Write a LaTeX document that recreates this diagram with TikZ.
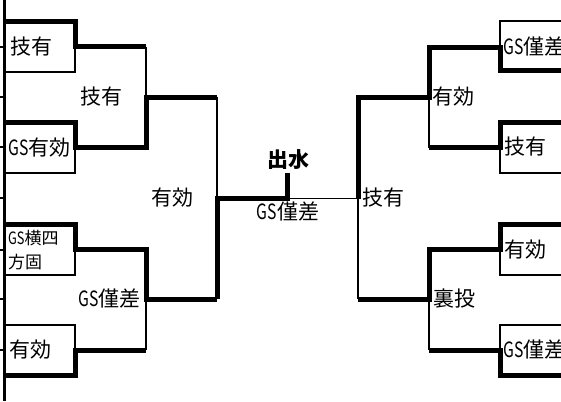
\documentclass[tikz,border=0pt]{standalone}
\usepackage{fontspec}
\setmainfont{Noto Sans CJK JP}
\newcommand\gsx{\scalebox{0.75}[1]{GS}}
\begin{document}
\begin{tikzpicture}[x=1pt,y=-1pt,
  thk/.style={line width=5pt,line join=miter},
  thn/.style={line width=1.5pt,line join=miter},
  mainl/.style={line width=3pt},
  tick/.style={line width=1.2pt},
  lbl/.style={anchor=west,inner sep=0pt,font=\fontsize{21}{24}\selectfont},
  lblc/.style={anchor=center,inner sep=0pt,font=\fontsize{21}{24}\selectfont},
  small/.style={anchor=west,inner sep=0pt,align=left,font=\fontsize{17}{23.5}\selectfont}]
\useasboundingbox (0,0) rectangle (561,401);
% main left line and ticks
\coordinate (mT) at (4.5,0); \coordinate (mB) at (4.5,401);
\draw[mainl] (mT) -- (mB);
\foreach \yy/\nm in {47/a,97/b,147/c,198/d,250/e,299/f,350/g}{
  \coordinate (t\nm0) at (0,\yy); \coordinate (t\nm1) at (4.5,\yy);
  \draw[tick] (t\nm0) -- (t\nm1);}
% junction coordinates, left
\coordinate (L1t) at (4.5,21.5); \coordinate (L1m) at (75,47);   \coordinate (L1b) at (4.5,72);
\coordinate (L2t) at (4.5,122.5);\coordinate (L2m) at (75,147.5);\coordinate (L2b) at (4.5,173);
\coordinate (L3t) at (4.5,224);  \coordinate (L3m) at (75,249.5);\coordinate (L3b) at (4.5,275);
\coordinate (L4t) at (4.5,325);  \coordinate (L4m) at (75,350);  \coordinate (L4b) at (4.5,375);
\coordinate (Q1a) at (146,47);  \coordinate (Q1b) at (146,147.5); \coordinate (Q1) at (217,97.5);
\coordinate (Q2a) at (146,249.5); \coordinate (Q2b) at (146,350); \coordinate (Q2) at (217,299);
\coordinate (SL) at (217,198.5); \coordinate (F) at (287,198.5); \coordinate (Ftop) at (287,173);
\coordinate (SR) at (358,198.5);
% junction coordinates, right
\coordinate (RQ1) at (358,97.5); \coordinate (RQ2) at (358,299);
\coordinate (RQ1a) at (429,47.5); \coordinate (RQ1b) at (429,147.5);
\coordinate (RQ2a) at (429,249.5); \coordinate (RQ2b) at (429,350);
\coordinate (R1m) at (500,47.5); \coordinate (R1t) at (565,21);  \coordinate (R1b) at (565,71);
\coordinate (R2m) at (500,147.5);\coordinate (R2t) at (565,122); \coordinate (R2b) at (565,173);
\coordinate (R3m) at (500,249.5);\coordinate (R3t) at (565,224.5); \coordinate (R3b) at (565,275);
\coordinate (R4m) at (500,350);  \coordinate (R4t) at (565,325); \coordinate (R4b) at (565,375);
% left boxes
\draw[thk] (L1t) -| (L1m) -- (Q1a);
\draw[thn] (L1m) |- (L1b);
\draw[thk] (L2t) -| (L2m) -- (Q1b) |- (Q1);
\draw[thn] (L2m) |- (L2b);
\draw[thn] (Q1a) |- (Q1);
\draw[thk] (L3t) -| (L3m) -- (Q2a) |- (Q2);
\draw[thn] (L3m) |- (L3b);
\draw[thn] (L4t) -| (L4m);
\draw[thk] (L4b) -| (L4m) -- (Q2b);
\draw[thn] (Q2b) |- (Q2);
% left semi and final
\draw[thn] (Q1) |- (SL);
\draw[thk] (Q2) |- (SL) -- (F) -- (Ftop);
\draw[thn] (F) -- (SR);
% right semi
\draw[thk] (SR) |- (RQ1 -| RQ1a) |- (RQ1a) -- (R1m) |- (R1b);
\draw[thn] (R1m) |- (R1t);
\draw[thn] (SR) |- (RQ2);
\draw[thn] (RQ1 -| RQ1a) |- (RQ1b);
\draw[thk] (RQ1b) -- (R2m) |- (R2t);
\draw[thn] (R2m) |- (R2b);
\draw[thk] (RQ2) -- (RQ2 -| RQ2a) |- (RQ2a) -- (R3m) |- (R3t);
\draw[thn] (R3m) |- (R3b);
\draw[thn] (RQ2 -| RQ2a) |- (RQ2b);
\draw[thk] (RQ2b) -- (R4m) |- (R4b);
\draw[thn] (R4m) |- (R4t);
% labels
\node[lbl] (l1) at (10,47) {技有};
\node[lbl] (q1) at (80,97) {技有};
\node[lbl] (l2) at (8,147.5) {\gsx 有効};
\node[lbl] (s1) at (151,198) {有効};
\node[small] (l3) at (8,250) {\gsx 横四\\方固};
\node[lbl] (q2) at (78,299) {\gsx 僅差};
\node[lbl] (l4) at (9,350) {有効};
\node[lblc,font=\fontsize{21}{24}\selectfont\bfseries] (win) at (288.5,160) {出水};
\node[lblc] (fin) at (288,212) {\gsx 僅差};
\node[lbl] (s2) at (362,198) {技有};
\node[lbl] (q3) at (432,97) {有効};
\node[lbl] (r1) at (503,47) {\gsx 僅差};
\node[lbl] (r2) at (504,147) {技有};
\node[lbl] (r3) at (504,250) {有効};
\node[lbl] (q4) at (433,299) {裏投};
\node[lbl] (r4) at (503,350) {\gsx 僅差};
\end{tikzpicture}
\end{document}
